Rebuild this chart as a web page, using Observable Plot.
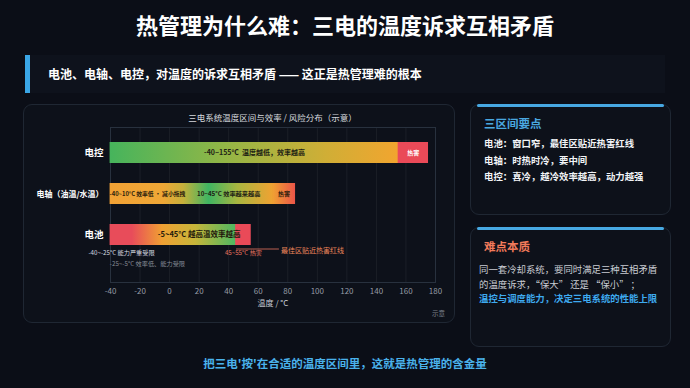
<!DOCTYPE html>
<html><head><meta charset="utf-8">
<script src="https://cdn.jsdelivr.net/npm/d3@7"></script>
<script src="https://cdn.jsdelivr.net/npm/@observablehq/plot@0.6"></script>
<style>
html,body{margin:0;padding:0;background:#0b0e17;}
body{width:690px;height:388px;position:relative;overflow:hidden;font-family:"Noto Sans CJK SC","Noto Sans",sans-serif;color:#fff;}
.abs{position:absolute;}
#title{left:0;width:690px;top:9px;text-align:center;font-size:22px;font-weight:700;line-height:30px;letter-spacing:0px;}
#sub{left:25px;top:55px;width:640px;height:38px;background:#0e121c;border-left:5px solid #3aa6e6;box-sizing:border-box;}
#subtext{left:48px;top:55px;line-height:38px;font-size:12px;font-weight:700;white-space:nowrap;}
.panel{border:1px solid #1f2733;border-radius:9px;background:#0d111a;box-sizing:border-box;}
#panel{left:23px;top:104px;width:432px;height:219px;}
#ctitle{left:110px;width:325px;top:110px;text-align:center;font-size:8.5px;color:#d6d9de;line-height:14px;}
#chart{left:23px;top:103px;}
#note{left:432px;top:308px;font-size:6.5px;color:#7c828c;}
.bar{position:absolute;left:6px;right:6px;top:-1px;height:3px;background:#47a8e2;border-radius:2px;}
#p1{left:470px;top:104px;width:201px;height:111px;}
#p2{left:470px;top:227px;width:201px;height:120px;}
.ptitle{position:absolute;left:13px;font-size:11.5px;font-weight:700;line-height:16px;white-space:nowrap;}
.pbody{position:absolute;white-space:nowrap;font-size:9.4px;}
#bottom{left:0;width:690px;top:354px;text-align:center;font-size:11.5px;font-weight:700;color:#4ab2ec;line-height:18px;}
</style></head>
<body>
<div id="title" class="abs">热管理为什么难：三电的温度诉求互相矛盾</div>
<div id="sub" class="abs"></div>
<div id="subtext" class="abs">电池、电轴、电控，对温度的诉求互相矛盾 —— 这正是热管理难的根本</div>
<div id="panel" class="abs panel"></div>
<div id="ctitle" class="abs">三电系统温度区间与效率 / 风险分布（示意）</div>
<div id="chart" class="abs"></div>
<div id="note" class="abs">示意</div>
<div id="p1" class="abs panel"><div class="bar"></div>
  <div class="ptitle" style="top:10px;color:#4aa8e0;">三区间要点</div>
  <div class="pbody" style="left:13px;top:30px;line-height:16.5px;font-weight:600;color:#f2f4f7;">电池：窗口窄，最佳区贴近热害红线<br>电轴：时热时冷，要中间<br>电控：喜冷，越冷效率越高，动力越强</div>
</div>
<div id="p2" class="abs panel"><div class="bar"></div>
  <div class="ptitle" style="top:10px;color:#f27a5a;">难点本质</div>
  <div class="pbody" style="left:8px;top:34px;line-height:14.7px;color:#c9ccd2;">同一套冷却系统，要同时满足三种互相矛盾<br>的温度诉求，“保大” 还是 “保小” ；<br><span style="color:#3eaaf0;font-weight:700;">温控与调度能力，决定三电系统的性能上限</span></div>
</div>
<div id="bottom" class="abs">把三电'按'在合适的温度区间里，这就是热管理的含金量</div>
<script>
// ---- data ----
const systems = ["电控", "电轴（油温/水温）", "电池"];
const xTicks = [-40, -20, 0, 20, 40, 60, 80, 100, 120, 140, 160, 180];
const segSystem = ["电控", "电控", "电轴（油温/水温）", "电轴（油温/水温）", "电轴（油温/水温）", "电池", "电池", "电池", "电池"];
const segStart = [-40, 155, -40, 10, 70, -40, -25, -5, 45];
const segEnd = [155, 175, 10, 70, 85, -25, -5, 45, 55];
const segLabel = ["-40~155°C  温度越低，效率越高", "热害", "-40~10°C 效率低 · 减小拖拽", "10~45°C 效率越来越高", "热害", "", "", "-5~45°C 越高温效率越高", ""];
const segNote = ["", "", "", "", "", "-40~-25°C 能力严重受限", "-25~-5°C 效率低、能力受限", "", "45~55°C 热害"];
const segNoteRow = [0, 0, 0, 0, 0, 1, 2, 0, 1];
const calloutFrom = [45];
const calloutTo = [74];
const calloutSystem = ["电池"];
const calloutText = ["最佳区贴近热害红线"];

// ---- styles ----
const segStops = [
  [[0, "#46b45c"], [0.4, "#93b646"], [0.75, "#d0ae36"], [1, "#f2a52f"]],
  [[0, "#ea4a58"], [1, "#ea4a58"]],
  [[0, "#f2a235"], [0.72, "#eea736"], [1, "#c4b13c"]],
  [[0, "#c4b13c"], [0.28, "#3fb562"], [0.6, "#a8b640"], [1, "#f0a232"]],
  [[0, "#f0a232"], [1, "#eb5548"]],
  [[0, "#e84c5a"], [1, "#e84c5a"]],
  [[0, "#e84c5a"], [1, "#f0a033"]],
  [[0, "#f0a033"], [0.45, "#c7b63a"], [1, "#4cb862"]],
  [[0, "#ea4a58"], [1, "#ea4a58"]]
];
const labelFill = ["#1e2214", "#ffffff", "#2a1c0c", "#1e2214", "#2a1c0c", "", "", "#241a0c", ""];
const labelSize = [7, 6, 5.8, 6.2, 6, 0, 0, 7.5, 0];
const noteFill = ["", "", "", "", "", "#d8dce2", "#858b95", "", "#e8735f"];

const segs = segSystem.map((s, i) => ({i, system: s, x1: segStart[i], x2: segEnd[i], label: segLabel[i], note: segNote[i], row: segNoteRow[i]}));
const callouts = calloutText.map((t, i) => ({from: calloutFrom[i], to: calloutTo[i], system: calloutSystem[i], text: t}));
const mid = d => (d.x1 + d.x2) / 2;

const chart = Plot.plot({
  width: 432, height: 220,
  marginLeft: 87, marginRight: 20, marginTop: 24, marginBottom: 41,
  style: {background: "transparent", fontFamily: "'Noto Sans CJK SC', sans-serif", color: "#8c929c"},
  x: {domain: [-40, 180]},
  y: {domain: systems, range: [38, 142], paddingInner: 0.49, paddingOuter: 0, axis: null},
  color: {type: "identity"},
  marks: [
    Plot.gridX(xTicks, {stroke: "#ffffff", strokeOpacity: 0.06}),
    Plot.frame({stroke: "#28313e"}),
    Plot.barX(segs, {x1: "x1", x2: "x2", y: "system", fill: d => `url(#seg${d.i})`, insetLeft: -0.4, insetRight: -0.4}),
    Plot.text(segs.filter(d => d.label), {x: mid, y: "system", text: "label", fill: d => labelFill[d.i], fontSize: d => labelSize[d.i], fontWeight: 600}),
    Plot.text(segs.filter(d => d.row === 1), {x: mid, y: "system", text: "note", dy: 18.5, fill: d => noteFill[d.i], fontSize: 6.2}),
    Plot.text(segs.filter(d => d.row === 2), {x: mid, y: "system", text: "note", dy: 29.5, fill: d => noteFill[d.i], fontSize: 6.2}),
    Plot.link(callouts, {x1: "from", x2: "to", y1: "system", y2: "system", dy: 14, stroke: "#e8735f", strokeWidth: 0.8}),
    Plot.text(callouts, {x: "to", y: "system", text: "text", dy: 15.5, dx: 2, textAnchor: "start", fill: "#f0875a", fontSize: 7}),
    Plot.text(systems, {y: d => d, text: d => d, frameAnchor: "left", textAnchor: "end", dx: -7, fill: "#ffffff", fontWeight: 700, fontSize: d => d.length > 2 ? 8 : 9.5}),
    Plot.axisX(xTicks, {tickSize: 0, tickPadding: 6, fontSize: 8, fill: "#959ba5", tickFormat: d => `${d}`, label: null}),
    Plot.text(["温度 / °C"], {text: d => d, frameAnchor: "bottom", dy: 23, fill: "#c9ced6", fontSize: 8})
  ]
});
const svg = d3.select(chart);
const defs = svg.insert("defs", ":first-child");
segStops.forEach((stops, i) => {
  const g = defs.append("linearGradient").attr("id", "seg" + i).attr("x1", 0).attr("x2", 1).attr("y1", 0).attr("y2", 0);
  stops.forEach(([o, c]) => g.append("stop").attr("offset", o).attr("stop-color", c));
});
document.getElementById("chart").appendChild(chart);
</script>
</body></html>
